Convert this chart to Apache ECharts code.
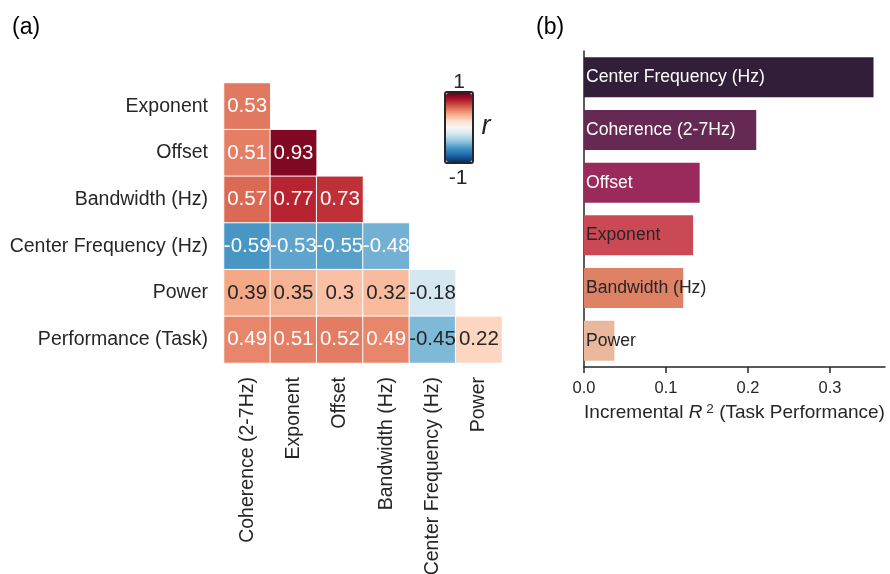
<!DOCTYPE html>
<html>
<head>
<meta charset="utf-8">
<script src="https://cdn.jsdelivr.net/npm/echarts@6/dist/echarts.min.js"></script>
<style>
html,body{margin:0;padding:0;background:#fff;}
#chart{width:890px;height:574px;}
</style>
</head>
<body>
<div id="chart"></div>
<script>
// ---------- Data ----------
const rowLabels = ['Exponent', 'Offset', 'Bandwidth (Hz)', 'Center Frequency (Hz)', 'Power', 'Performance (Task)'];
const colLabels = ['Coherence (2-7Hz)', 'Exponent', 'Offset', 'Bandwidth (Hz)', 'Center Frequency (Hz)', 'Power'];
const corrExponent    = [0.53];
const corrOffset      = [0.51, 0.93];
const corrBandwidth   = [0.57, 0.77, 0.73];
const corrCenterFreq  = [-0.59, -0.53, -0.55, -0.48];
const corrPower       = [0.39, 0.35, 0.3, 0.32, -0.18];
const corrPerformance = [0.49, 0.51, 0.52, 0.49, -0.45, 0.22];
const colorbarRange = [-1, 1];

const barCategories = ['Center Frequency (Hz)', 'Coherence (2-7Hz)', 'Offset', 'Exponent', 'Bandwidth (Hz)', 'Power'];
const incrementalR2 = [0.353, 0.210, 0.141, 0.133, 0.121, 0.037];
const barTicks = [0, 0.1, 0.2, 0.3];

// ---------- Styles ----------
const FONT = '"Liberation Sans", Arial, Helvetica, sans-serif';
const INK = '#262626';
const rdbuR = ['#053061', '#2166ac', '#4393c3', '#92c5de', '#d1e5f0', '#f7f7f7',
               '#fddbc7', '#f4a582', '#d6604d', '#b2182b', '#67001f'];
const barColors = ['#331e39', '#662953', '#9a2a5b', '#cb4954', '#df8165', '#e9b89c'];
const barLabelColors = ['#ffffff', '#ffffff', '#ffffff', INK, INK, INK];

const corrRows = [corrExponent, corrOffset, corrBandwidth, corrCenterFreq, corrPower, corrPerformance];
const heatData = [];
corrRows.forEach((row, r) => {
  row.forEach((v, c) => {
    const light = (v >= 0.45 || v <= -0.46);
    heatData.push({
      value: [c, r, v],
      label: { color: light ? '#ffffff' : INK }
    });
  });
});

const barData = incrementalR2.map((v, i) => ({
  value: v,
  itemStyle: { color: barColors[i] },
  label: { color: barLabelColors[i] }
}));

const chart = echarts.init(document.getElementById('chart'), null, { renderer: 'canvas' });
const option = {
  backgroundColor: '#ffffff',
  animation: false,
  textStyle: { fontFamily: FONT },
  grid: [
    { left: 224, top: 83, width: 278, height: 280, outerBoundsMode: 'none', containLabel: false },
    { left: 584, top: 51, width: 301, height: 316, outerBoundsMode: 'none', containLabel: false }
  ],
  xAxis: [
    {
      type: 'category', gridIndex: 0, data: colLabels, position: 'bottom',
      axisLine: { show: false }, axisTick: { show: false }, splitLine: { show: false },
      axisLabel: { rotate: 90, margin: 14, fontSize: 19.5, color: INK, fontFamily: FONT, interval: 0 }
    },
    {
      type: 'value', gridIndex: 1, min: 0, max: 0.367,
      axisLine: { show: true, lineStyle: { color: INK, width: 1.5 } },
      axisTick: { show: true, length: 6, lineStyle: { color: INK, width: 1.5 }, customValues: barTicks },
      axisLabel: { customValues: barTicks, fontSize: 16.5, color: INK, margin: 13, fontFamily: FONT,
                   formatter: v => v.toFixed(1) },
      splitLine: { show: false },
      name: '{a|Incremental }{i|R}{s|2}{a| (Task Performance)}',
      nameLocation: 'middle', nameGap: 34,
      nameTextStyle: {
        rich: {
          a: { fontSize: 19, color: INK, fontFamily: FONT },
          i: { fontSize: 19, color: INK, fontFamily: FONT, fontStyle: 'italic' },
          s: { fontSize: 13.5, color: INK, fontFamily: FONT, padding: [0, 0, 8, 4] }
        }
      }
    }
  ],
  yAxis: [
    {
      type: 'category', gridIndex: 0, data: rowLabels, inverse: true,
      axisLine: { show: false }, axisTick: { show: false }, splitLine: { show: false },
      axisLabel: { margin: 16, fontSize: 19.5, color: INK, fontFamily: FONT, interval: 0 }
    },
    {
      type: 'category', gridIndex: 1, data: barCategories, inverse: true,
      axisLine: { show: true, lineStyle: { color: INK, width: 1.5 } },
      axisTick: { show: false }, axisLabel: { show: false }, splitLine: { show: false }
    }
  ],
  visualMap: {
    type: 'continuous', min: colorbarRange[0], max: colorbarRange[1], dimension: 2, seriesIndex: 0,
    calculable: false, left: 446, top: 93, itemWidth: 26, itemHeight: 69, padding: 0,
    showLabel: false, text: null,
    inRange: { color: rdbuR }
  },
  series: [
    {
      type: 'heatmap', xAxisIndex: 0, yAxisIndex: 0, data: heatData,
      itemStyle: { borderColor: '#ffffff', borderWidth: 1 },
      label: { show: true, fontSize: 20.5, fontFamily: FONT, formatter: p => String(p.value[2]) },
      emphasis: { disabled: true }
    },
    {
      type: 'bar', xAxisIndex: 1, yAxisIndex: 1, data: barData, barCategoryGap: '24%',
      label: { show: true, position: 'insideLeft', distance: 2, fontSize: 17.6, fontFamily: FONT,
               formatter: p => barCategories[p.dataIndex] },
      emphasis: { disabled: true }
    }
  ],
  graphic: [
    { type: 'text', left: 12, top: 16, style: { text: '(a)', fontSize: 23, fill: '#000', fontFamily: FONT } },
    { type: 'text', left: 536, top: 16, style: { text: '(b)', fontSize: 23, fill: '#000', fontFamily: FONT } },
    { type: 'rect', shape: { x: 445, y: 92, width: 28, height: 71, r: 2 },
      style: { fill: 'none', stroke: INK, lineWidth: 2 } },
    { type: 'text', x: 459, y: 82, style: { text: String(colorbarRange[1]), fontSize: 21, fill: INK, fontFamily: FONT, align: 'center', verticalAlign: 'middle' } },
    { type: 'text', x: 458, y: 178, style: { text: String(colorbarRange[0]), fontSize: 21, fill: INK, fontFamily: FONT, align: 'center', verticalAlign: 'middle' } },
    { type: 'text', x: 486, y: 126, style: { text: 'r', fontSize: 27, fontStyle: 'italic', fill: INK, fontFamily: FONT, align: 'center', verticalAlign: 'middle' } }
  ]
};
chart.setOption(option);
</script>
</body>
</html>
